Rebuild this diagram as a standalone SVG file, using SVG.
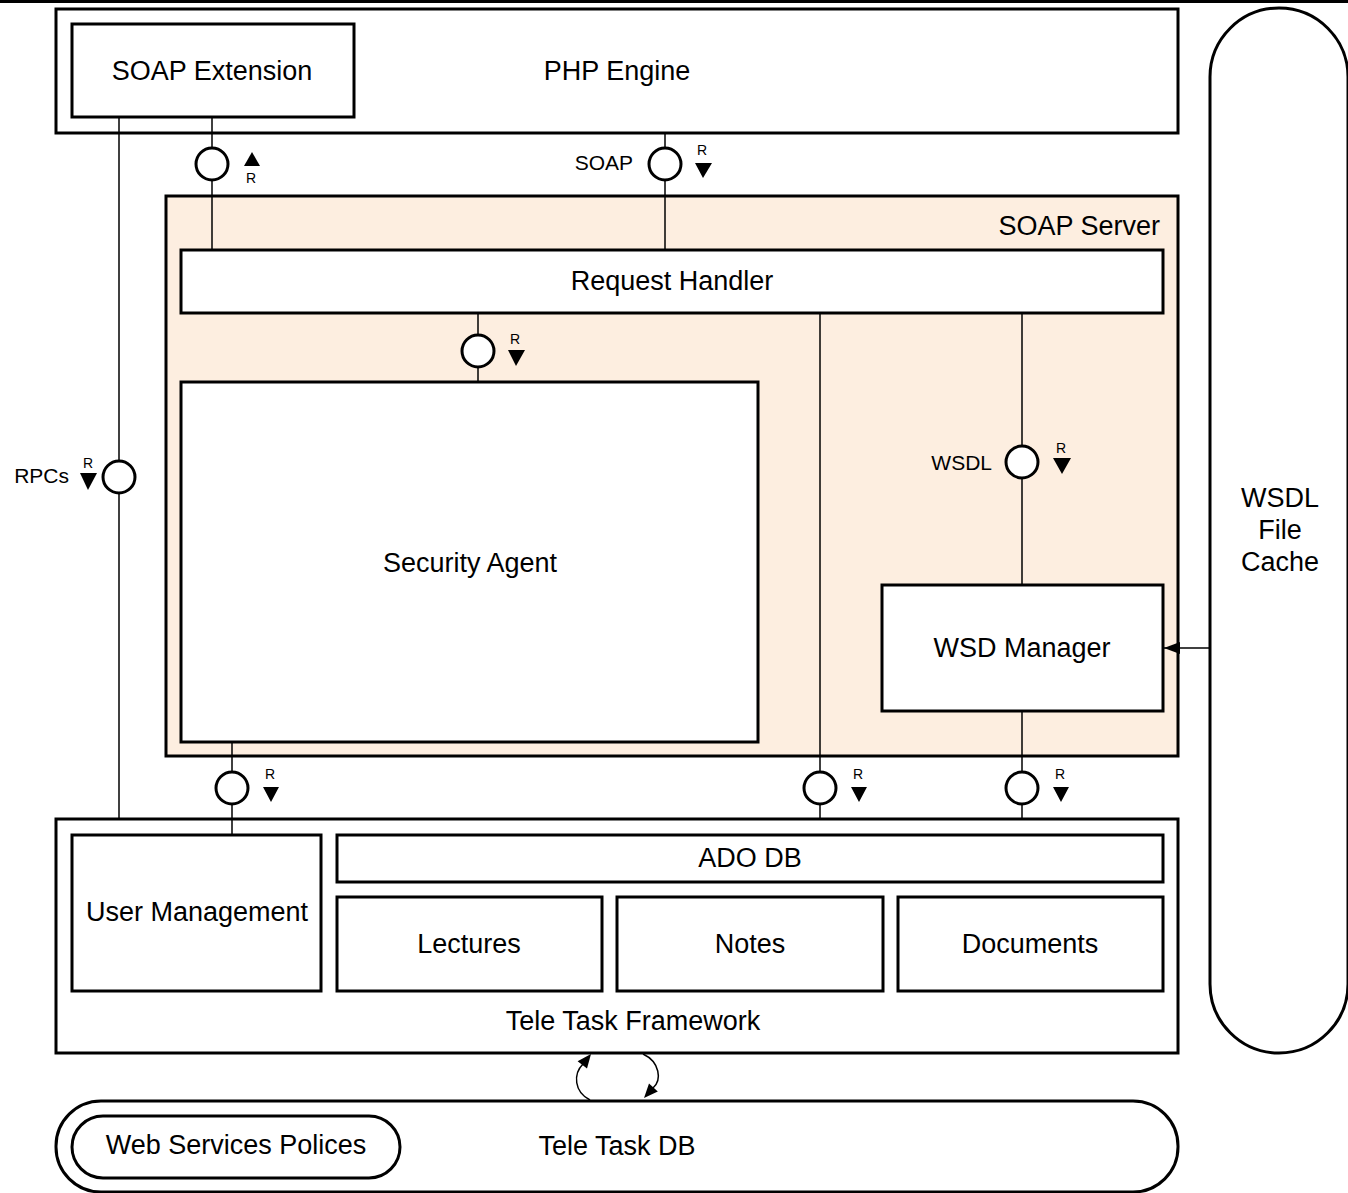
<svg xmlns="http://www.w3.org/2000/svg" width="1348" height="1193" viewBox="0 0 1348 1193">
<style>
.box{fill:#fff;stroke:#000;stroke-width:3}
.srv{fill:#FDEEE0;stroke:#000;stroke-width:3}
.ln{fill:none;stroke:#000;stroke-width:1.5}
.ifc{fill:#fff;stroke:#000;stroke-width:3}
.tri{fill:#000}
text{font-family:"Liberation Sans",Arial,sans-serif;fill:#000}
.t{font-size:27px;text-anchor:middle}
.s{font-size:21px}
.r{font-size:14px;text-anchor:middle}
</style>
<defs>
<marker id="ab" viewBox="0 0 16 12" refX="16" refY="6" markerWidth="16" markerHeight="12" markerUnits="userSpaceOnUse" orient="auto">
<path d="M0,0 L16,6 L0,12 z" fill="#000"/>
</marker>
</defs>
<rect x="0" y="0" width="1348" height="1193" fill="#fff"/>
<rect x="0" y="0" width="1348" height="3" fill="#000"/>

<g id="php-engine">
<rect class="box" x="56" y="9" width="1122" height="124"/>
<text class="t" x="617" y="80">PHP Engine</text>
</g>
<g id="soap-extension">
<rect class="box" x="72" y="24" width="282" height="93"/>
<text class="t" x="212" y="80">SOAP Extension</text>
</g>
<g id="wsdl-file-cache">
<rect class="box" x="1210" y="8" width="138" height="1045" rx="69" ry="69"/>
<text class="t" x="1280" y="507">WSDL</text>
<text class="t" x="1280" y="539">File</text>
<text class="t" x="1280" y="571">Cache</text>
</g>
<g id="soap-server">
<rect class="srv" x="166" y="196" width="1012" height="560"/>
<text class="t" x="1160" y="235" style="text-anchor:end">SOAP Server</text>
</g>
<g id="request-handler">
<rect class="box" x="181" y="250" width="982" height="63"/>
<text class="t" x="672" y="290">Request Handler</text>
</g>
<g id="security-agent">
<rect class="box" x="181" y="382" width="577" height="360"/>
<text class="t" x="470" y="572">Security Agent</text>
</g>
<g id="wsd-manager">
<rect class="box" x="882" y="585" width="281" height="126"/>
<text class="t" x="1022" y="657">WSD Manager</text>
</g>
<g id="tele-task-framework">
<rect class="box" x="56" y="819" width="1122" height="234"/>
<text class="t" x="633" y="1030">Tele Task Framework</text>
</g>
<g id="user-management">
<rect class="box" x="72" y="835" width="249" height="156"/>
<text class="t" x="197" y="921">User Management</text>
</g>
<g id="ado-db">
<rect class="box" x="337" y="835" width="826" height="47"/>
<text class="t" x="750" y="867">ADO DB</text>
</g>
<g id="lectures">
<rect class="box" x="337" y="897" width="265" height="94"/>
<text class="t" x="469" y="953">Lectures</text>
</g>
<g id="notes">
<rect class="box" x="617" y="897" width="266" height="94"/>
<text class="t" x="750" y="953">Notes</text>
</g>
<g id="documents">
<rect class="box" x="898" y="897" width="265" height="94"/>
<text class="t" x="1030" y="953">Documents</text>
</g>
<g id="tele-task-db">
<rect class="box" x="56" y="1101" width="1122" height="91" rx="45" ry="45"/>
<text class="t" x="617" y="1155">Tele Task DB</text>
</g>
<g id="web-services-polices">
<rect class="box" x="72" y="1116" width="328" height="62" rx="31" ry="31"/>
<text class="t" x="236" y="1154">Web Services Polices</text>
</g>

<g id="connectors">
<line class="ln" x1="119" y1="117" x2="119" y2="819"/>
<line class="ln" x1="212" y1="117" x2="212" y2="250"/>
<line class="ln" x1="665" y1="133" x2="665" y2="250"/>
<line class="ln" x1="478" y1="313" x2="478" y2="382"/>
<line class="ln" x1="820" y1="313" x2="820" y2="819"/>
<line class="ln" x1="1022" y1="313" x2="1022" y2="585"/>
<line class="ln" x1="1022" y1="711" x2="1022" y2="819"/>
<line class="ln" x1="232" y1="742" x2="232" y2="835"/>
<line class="ln" x1="1210" y1="648" x2="1164" y2="648" marker-end="url(#ab)"/>
<path class="ln" d="M590,1100 C574,1092 573,1074 583,1064"/>
<path class="tri" d="M591,1054 L587,1068.6 L577.6,1061.2 z"/>
<path class="ln" d="M643,1054 C660,1062 662,1080 653,1088"/>
<path class="tri" d="M644,1098 L649,1083.6 L657.8,1091.6 z"/>

<circle class="ifc" cx="212" cy="164" r="16"/>
<path class="tri" d="M252,152 L260,166 L244,166 z"/>
<text class="r" x="251" y="183">R</text>

<circle class="ifc" cx="665" cy="164" r="16"/>
<text class="s" x="633" y="170" style="text-anchor:end">SOAP</text>
<text class="r" x="702" y="155">R</text>
<path class="tri" d="M695,163 L712,163 L703,178 z"/>

<circle class="ifc" cx="478" cy="351" r="16"/>
<text class="r" x="515" y="344">R</text>
<path class="tri" d="M508,350 L525,350 L516,366 z"/>

<circle class="ifc" cx="1022" cy="462" r="16"/>
<text class="s" x="992" y="470" style="text-anchor:end">WSDL</text>
<text class="r" x="1061" y="453">R</text>
<path class="tri" d="M1053,458 L1071,458 L1062,474 z"/>

<circle class="ifc" cx="119" cy="477" r="16"/>
<text class="s" x="69" y="483" style="text-anchor:end">RPCs</text>
<text class="r" x="88" y="468">R</text>
<path class="tri" d="M80,473 L97,473 L88,490 z"/>

<circle class="ifc" cx="232" cy="788" r="16"/>
<text class="r" x="270" y="779">R</text>
<path class="tri" d="M263,787 L279,787 L271,802 z"/>

<circle class="ifc" cx="820" cy="788" r="16"/>
<text class="r" x="858" y="779">R</text>
<path class="tri" d="M851,787 L867,787 L859,802 z"/>

<circle class="ifc" cx="1022" cy="788" r="16"/>
<text class="r" x="1060" y="779">R</text>
<path class="tri" d="M1053,787 L1069,787 L1061,802 z"/>
</g>
</svg>
